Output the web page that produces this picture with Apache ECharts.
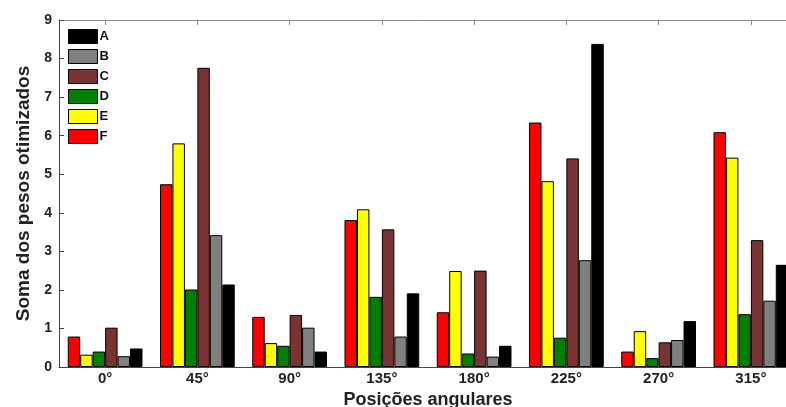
<!DOCTYPE html>
<html>
<head>
<meta charset="utf-8">
<script src="https://cdn.jsdelivr.net/npm/echarts@6/dist/echarts.min.js"></script>
<style>
  html, body { margin: 0; padding: 0; background: #fff; }
  #chart { width: 786px; height: 407px; }
</style>
</head>
<body>
<div id="chart"></div>
<script>
  // categorias do eixo x
  const categories = ['0°', '45°', '90°', '135°', '180°', '225°', '270°', '315°'];
  const yTicks = [0, 1, 2, 3, 4, 5, 6, 7, 8, 9];

  // valores (ordem das barras: F, E, D, C, B, A)
  const F = [0.79, 4.74, 1.30, 3.81, 1.42, 6.34, 0.40, 6.09];
  const E = [0.32, 5.80, 0.62, 4.09, 2.49, 4.82, 0.93, 5.43];
  const D = [0.40, 2.01, 0.55, 1.82, 0.35, 0.76, 0.23, 1.37];
  const C = [1.02, 7.76, 1.35, 3.57, 2.50, 5.41, 0.64, 3.29];
  const B = [0.28, 3.42, 1.02, 0.79, 0.27, 2.77, 0.70, 1.72];
  const A = [0.48, 2.14, 0.40, 1.91, 0.55, 8.38, 1.19, 2.65];

  const font = 'Liberation Sans, Arial, sans-serif';
  const axisColor = '#444';

  function bar(name, data, color) {
    return {
      name: name,
      type: 'bar',
      data: data,
      barGap: '0%',
      barCategoryGap: '19%',
      itemStyle: { color: color, borderColor: '#000', borderWidth: 1 }
    };
  }

  const chart = echarts.init(document.getElementById('chart'));
  chart.setOption({
    animation: false,
    backgroundColor: '#fff',
    // a área do gráfico passa da borda direita, como no original
    grid: { left: 59, top: 20, width: 738, height: 347, outerBoundsMode: 'none' },
    legend: {
      orient: 'vertical',
      left: 63,
      top: 24,
      icon: 'rect',
      itemWidth: 29,
      itemHeight: 14,
      itemGap: 5,
      data: ['A', 'B', 'C', 'D', 'E', 'F'],
      textStyle: { fontFamily: font, fontWeight: 'bold', fontSize: 13, color: '#111', padding: [0, 0, 0, -3] },
      itemStyle: { borderColor: '#000', borderWidth: 1 }
    },
    xAxis: [{
      type: 'category',
      data: categories,
      name: 'Posições angulares',
      nameLocation: 'middle',
      nameGap: 18,
      nameTextStyle: { fontFamily: font, fontWeight: 'bold', fontSize: 18, color: '#222' },
      axisLine: { lineStyle: { color: axisColor } },
      axisTick: { show: false },
      axisLabel: { fontFamily: font, fontWeight: 'bold', fontSize: 15, color: '#222', margin: 4 }
    }, {
      type: 'category',
      data: categories,
      position: 'top',
      axisLine: { lineStyle: { color: '#888' } },
      axisTick: { show: true, alignWithLabel: true, inside: true, length: 5, lineStyle: { color: '#888' } },
      axisLabel: { show: false }
    }],
    yAxis: {
      type: 'value',
      min: yTicks[0],
      max: yTicks[yTicks.length - 1],
      interval: 1,
      name: 'Soma dos pesos otimizados',
      nameLocation: 'middle',
      nameRotate: 90,
      nameGap: 22,
      nameTextStyle: { fontFamily: font, fontWeight: 'bold', fontSize: 19, color: '#222' },
      axisLine: { show: true, lineStyle: { color: axisColor } },
      axisTick: { show: true, inside: true, length: 5, lineStyle: { color: axisColor } },
      splitLine: { show: false },
      axisLabel: { fontFamily: font, fontWeight: 'bold', fontSize: 14, color: '#222', margin: 7 }
    },
    series: [
      bar('F', F, '#ff0000'),
      bar('E', E, '#ffff00'),
      bar('D', D, '#007f00'),
      bar('C', C, '#7a3333'),
      bar('B', B, '#808080'),
      bar('A', A, '#000000')
    ]
  });
</script>
</body>
</html>
